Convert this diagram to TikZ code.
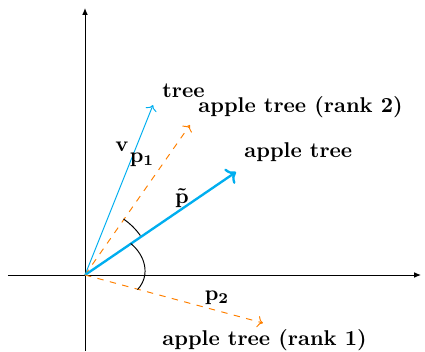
\documentclass[tikz,border=0pt]{standalone}
\usetikzlibrary{arrows.meta}
\definecolor{vecblue}{RGB}{0,174,239}
\definecolor{rankorange}{RGB}{255,128,0}

\begin{document}
\begin{tikzpicture}[
    x=0.01643cm, y=0.01643cm,
    axis/.style={-{Latex[length=3.2pt,width=2.6pt]}, line width=0.42pt},
    vec/.style={->, vecblue},
    rankvec/.style={->, rankorange, dashed},
    word/.style={anchor=base west, inner sep=0pt, font=\bfseries},
    sym/.style={inner sep=1pt, font=\boldmath}
]
\useasboundingbox (-85,-76) rectangle (340,275);
\coordinate (O) at (0,0);
\coordinate (xend) at (336,0);
\coordinate (xstart) at (-77,0);
\coordinate (yend) at (0,267);
\coordinate (ystart) at (0,-76);
\coordinate (vtip) at (68,170);
\coordinate (ponetip) at (105,150);
\coordinate (ptildetip) at (151,103);
\coordinate (ptwotip) at (178,-48);

% axes
\draw[axis] (xstart) -- (xend);
\draw[axis] (ystart) -- (yend);

% vectors
\draw[vec, line width=0.45pt] (O) -- (vtip);
\draw[rankvec, line width=0.45pt] (O) -- (ponetip);
\draw[vec, line width=1.1pt] (O) -- (ptildetip);
\draw[rankvec, line width=0.45pt] (O) -- (ptwotip);

% angles
\draw[line width=0.45pt] (55.5:68) arc (55.5:35.5:68);
\draw[line width=0.45pt] (34.6:55.5) .. controls (60,20) and (66,0) .. (-15.6:54.5);

% labels
\node[word] (tree) at (77,178) {tree};
\node[word] (rank2) at (113,163) {apple tree (rank 2)};
\node[word] (apple) at (159,118) {apple tree};
\node[word] (rank1) at (77,-70) {apple tree (rank 1)};
\node[sym] (v) at (37,128) {$\mathbf{v}$};
\node[sym] (pone) at (57,115) {$\mathbf{p}_1$};
\node[sym] (ptilde) at (97,77) {$\tilde{\mathbf{p}}$};
\node[sym] (ptwo) at (132,-23) {$\mathbf{p}_2$};
\end{tikzpicture}
\end{document}
